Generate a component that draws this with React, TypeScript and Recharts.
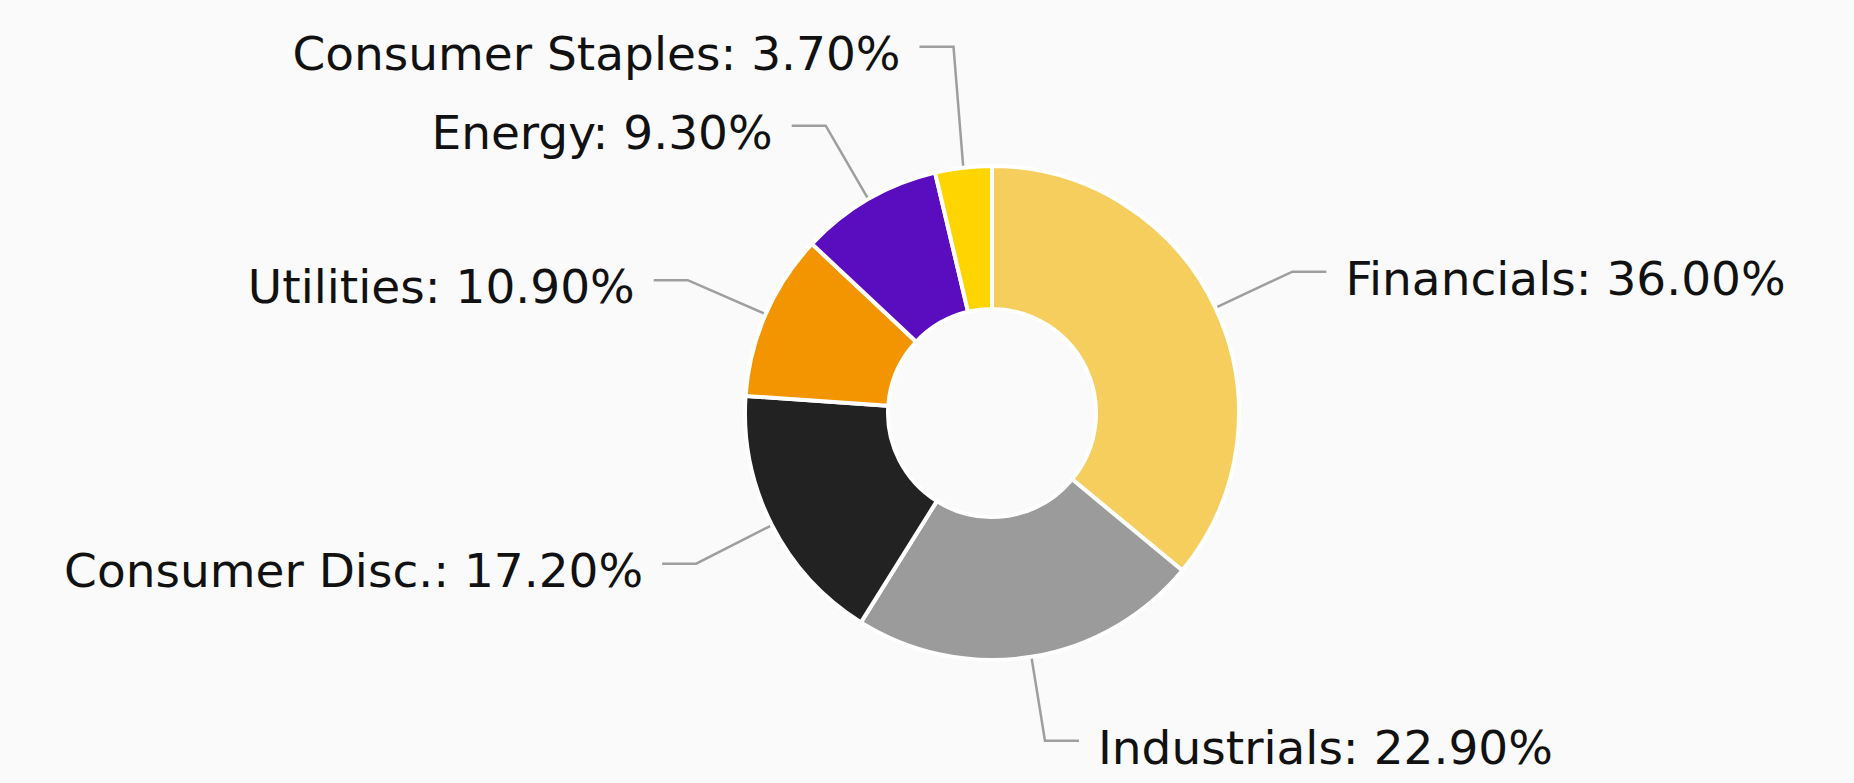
import { PieChart, Pie, Cell } from "recharts";

const sectors = [
    "Financials",
    "Industrials",
    "Consumer Disc.",
    "Utilities",
    "Energy",
    "Consumer Staples",
];
const weights = [36.0, 22.9, 17.2, 10.9, 9.3, 3.7];

const palette = ["#F6CE5E", "#9B9B9B", "#222222", "#F29500", "#5A0DBF", "#FFD500"];

const data = sectors.map((name, i) => ({ name, value: weights[i] }));

const START = 90;
const END = -270;
const RAD = Math.PI / 180;
const LINE_OUT = 85; // radial part of the leader line
const ELBOW = 34; // horizontal part
const GAP = 19;
const ROW = 79; // min vertical distance between labels on one side

// place every label like the original: radial tick, then horizontal,
// pushing labels upward when they would overlap
function layoutLabels(cx: number, cy: number, r: number) {
    const total = weights.reduce((a, b) => a + b, 0);
    let acc = 0;
    const items = weights.map((w, i) => {
        const a0 = START + ((END - START) * acc) / total;
        acc += w;
        const a1 = START + ((END - START) * acc) / total;
        const mid = (a0 + a1) / 2;
        const c = Math.cos(mid * RAD);
        const s = Math.sin(mid * RAD);
        return {
            i,
            right: c >= 0,
            sx: cx + (r + 2) * c,
            sy: cy - (r + 2) * s,
            ex: cx + (r + LINE_OUT) * c,
            ey: cy - (r + LINE_OUT) * s,
        };
    });
    [true, false].forEach((side) => {
        const list = items
            .filter((it) => it.right === side)
            .sort((a, b) => b.ey - a.ey);
        for (let k = 1; k < list.length; k++) {
            list[k].ey = Math.min(list[k].ey, list[k - 1].ey - ROW);
        }
    });
    return items;
}

function SliceLabel(props: any) {
    const { cx, cy, outerRadius, index } = props;
    const it = layoutLabels(cx, cy, outerRadius)[index];
    const dir = it.right ? 1 : -1;
    const hx = it.ex + dir * ELBOW;
    return (
        <g>
            <polyline
                points={`${it.sx},${it.sy} ${it.ex},${it.ey} ${hx},${it.ey}`}
                fill="none"
                stroke="#9e9e9e"
                strokeWidth={2.5}
            />
            <text
                x={hx + dir * GAP}
                y={it.ey + 23}
                textAnchor={it.right ? "start" : "end"}
                fontFamily="DejaVu Sans, Verdana, sans-serif"
                fontSize={47}
                fill="#111111"
            >
                {`${sectors[index]}: ${weights[index].toFixed(2)}%`}
            </text>
        </g>
    );
}

export default function App() {
    return (
        <div
            style={{
                position: "absolute",
                left: 0,
                top: 0,
                width: 1854,
                height: 783,
                background: "#FAFAFA",
            }}
        >
            <PieChart width={1854} height={783}>
                <Pie
                    data={data}
                    dataKey="value"
                    nameKey="name"
                    cx={987}
                    cy={408}
                    innerRadius={104}
                    outerRadius={247}
                    startAngle={START}
                    endAngle={END}
                    stroke="#FFFFFF"
                    strokeWidth={4}
                    label={SliceLabel}
                    labelLine={false}
                    isAnimationActive={false}
                >
                    {data.map((d, i) => (
                        <Cell key={d.name} fill={palette[i]} />
                    ))}
                </Pie>
            </PieChart>
        </div>
    );
}
